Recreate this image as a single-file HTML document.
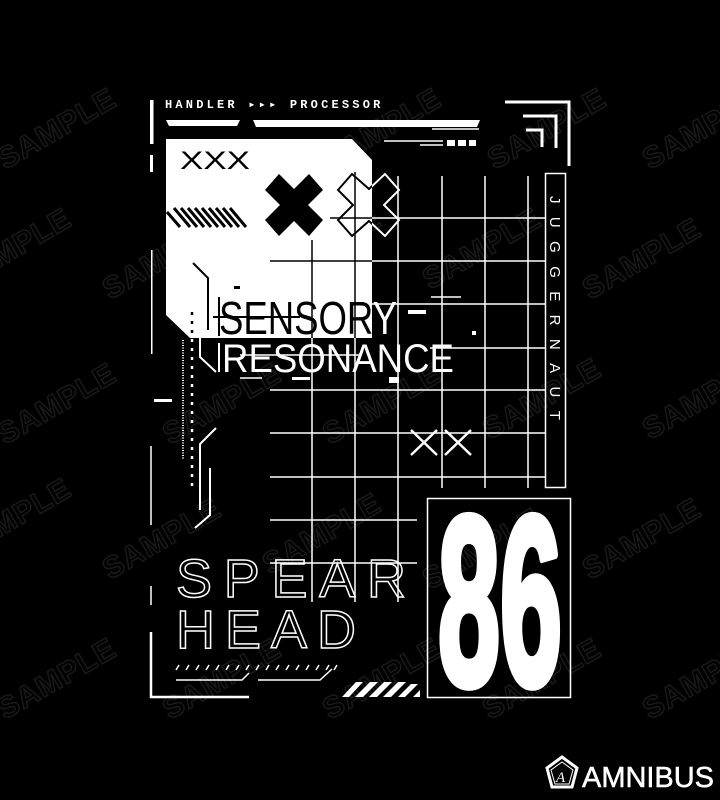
<!DOCTYPE html>
<html><head><meta charset="utf-8"><style>
html,body{margin:0;padding:0;background:#000;width:720px;height:800px;overflow:hidden}
svg{display:block}
</style></head><body>
<svg width="720" height="800" viewBox="0 0 720 800" xmlns="http://www.w3.org/2000/svg">
<defs>
<clipPath id="panel"><polygon points="166,139 352,139 372,160 372,338 190,338 166,315"/></clipPath>
</defs>
<rect width="720" height="800" fill="#000"/>
<!-- watermarks -->
<g font-family="Liberation Sans, sans-serif" font-weight="bold" font-size="30" fill="none" stroke="#1a1a1a" stroke-width="1.5" letter-spacing="1">
<text transform="translate(5,170) rotate(-30)">SAMPLE</text>
<text transform="translate(330,170) rotate(-30)">SAMPLE</text>
<text transform="translate(495,170) rotate(-30)">SAMPLE</text>
<text transform="translate(650,170) rotate(-30)">SAMPLE</text>
<text transform="translate(-40,290) rotate(-30)">SAMPLE</text>
<text transform="translate(110,300) rotate(-30)">SAMPLE</text>
<text transform="translate(270,290) rotate(-30)">SAMPLE</text>
<text transform="translate(430,290) rotate(-30)">SAMPLE</text>
<text transform="translate(590,300) rotate(-30)">SAMPLE</text>
<text transform="translate(5,445) rotate(-30)">SAMPLE</text>
<text transform="translate(170,445) rotate(-30)">SAMPLE</text>
<text transform="translate(330,445) rotate(-30)">SAMPLE</text>
<text transform="translate(490,440) rotate(-30)">SAMPLE</text>
<text transform="translate(650,440) rotate(-30)">SAMPLE</text>
<text transform="translate(-40,560) rotate(-30)">SAMPLE</text>
<text transform="translate(110,580) rotate(-30)">SAMPLE</text>
<text transform="translate(270,575) rotate(-30)">SAMPLE</text>
<text transform="translate(430,590) rotate(-30)">SAMPLE</text>
<text transform="translate(590,580) rotate(-30)">SAMPLE</text>
<text transform="translate(5,720) rotate(-30)">SAMPLE</text>
<text transform="translate(170,720) rotate(-30)">SAMPLE</text>
<text transform="translate(330,720) rotate(-30)">SAMPLE</text>
<text transform="translate(490,720) rotate(-30)">SAMPLE</text>
<text transform="translate(650,720) rotate(-30)">SAMPLE</text>
</g>

<!-- header -->
<text x="165" y="108" font-family="Liberation Mono, monospace" font-weight="bold" font-size="12" fill="#fff" letter-spacing="3.2">HANDLER ▸▸▸ PROCESSOR</text>
<rect x="150" y="100" width="3.5" height="44" fill="#fff"/>
<rect x="150" y="155" width="3" height="17" fill="#fff"/>
<rect x="151" y="250" width="1.5" height="104" fill="#fff"/>
<path d="M166,120 H240 L237,126 H169 Z" fill="#fff"/>
<path d="M253,120 H480 L477,127 H256 Z" fill="#fff"/>
<line x1="432" y1="129" x2="479" y2="129" stroke="#fff" stroke-width="1.5"/>
<line x1="384" y1="141" x2="443" y2="141" stroke="#fff" stroke-width="1.5"/>
<line x1="420" y1="145" x2="443" y2="145" stroke="#fff" stroke-width="1.5"/>
<rect x="447" y="140" width="8" height="6" fill="#fff"/><rect x="458" y="140" width="8" height="6" fill="#fff"/><rect x="469" y="140" width="7" height="6" fill="#fff"/>
<!-- corners -->
<path d="M505,102 H569 V166" fill="none" stroke="#fff" stroke-width="3"/>
<path d="M523,116 H556 V148" fill="none" stroke="#fff" stroke-width="3"/>
<path d="M526,130 H542 V147" fill="none" stroke="#fff" stroke-width="3"/>

<!-- panel -->
<polygon points="166,139 352,139 372,160 372,338 190,338 166,315" fill="#fff"/>
<text x="180" y="169" font-family="Liberation Sans, sans-serif" font-size="25" fill="#000" textLength="70" lengthAdjust="spacingAndGlyphs">XXX</text>
<g stroke="#000" stroke-width="3">
<line x1="167" y1="212" x2="180" y2="227"/><line x1="174" y1="208" x2="190" y2="227"/><line x1="181" y1="208" x2="197" y2="227"/><line x1="188" y1="208" x2="204" y2="227"/><line x1="195" y1="208" x2="211" y2="227"/><line x1="202" y1="208" x2="218" y2="227"/><line x1="209" y1="208" x2="225" y2="227"/><line x1="216" y1="208" x2="232" y2="227"/><line x1="223" y1="208" x2="239" y2="227"/><line x1="230" y1="208" x2="246" y2="227"/>
</g>
<!-- black X -->
<path d="M265,190 L279,174 L294,189 L309,174 L323,190 L308,205 L323,220 L309,236 L294,221 L279,236 L265,220 L280,205 Z" fill="#000"/>
<!-- grid -->
<g stroke="#fff" stroke-width="1.5">
<line x1="312" y1="240" x2="312" y2="602"/>
<line x1="355" y1="172" x2="355" y2="602"/>
<line x1="398" y1="176" x2="398" y2="602"/>
<line x1="442" y1="176" x2="442" y2="488"/>
<line x1="485" y1="176" x2="485" y2="488"/>
<line x1="528" y1="176" x2="528" y2="488"/>
<line x1="327" y1="218" x2="545" y2="218"/>
<line x1="270" y1="261" x2="545" y2="261"/>
<line x1="372" y1="304" x2="545" y2="304"/>
<line x1="430" y1="348" x2="545" y2="348"/>
<line x1="270" y1="390" x2="545" y2="390"/>
<line x1="270" y1="433" x2="545" y2="433"/>
<line x1="270" y1="477" x2="545" y2="477"/>
<line x1="270" y1="520" x2="417" y2="520"/>
<line x1="270" y1="563" x2="417" y2="563"/>
</g>
<g clip-path="url(#panel)" stroke="#000" stroke-width="1.5">
<line x1="312" y1="240" x2="312" y2="602"/>
<line x1="355" y1="172" x2="355" y2="602"/>
<line x1="270" y1="261" x2="545" y2="261"/>
<line x1="330" y1="218" x2="545" y2="218"/>
</g>
<!-- outline X -->
<path d="M338,190 L352,174 L369,189 L385,174 L399,190 L384,205 L399,220 L385,236 L369,221 L352,236 L338,220 L353,205 Z" fill="none" stroke="#fff" stroke-width="2"/>
<g clip-path="url(#panel)"><path d="M338,190 L352,174 L369,189 L385,174 L399,190 L384,205 L399,220 L385,236 L369,221 L352,236 L338,220 L353,205 Z" fill="none" stroke="#000" stroke-width="2"/></g>

<!-- juggernaut -->
<rect x="545.5" y="173.5" width="20" height="314" fill="none" stroke="#fff" stroke-width="1.5"/>
<text transform="translate(550,196) rotate(90)" font-family="Liberation Sans, sans-serif" font-size="15" fill="#fff" letter-spacing="13.4">JUGGERNAUT</text>

<!-- left decorations -->
<path d="M193,263 L208,278 V330" fill="none" stroke="#000" stroke-width="2"/>
<path d="M200,290 V357 L216,372" fill="none" stroke="#fff" stroke-width="2"/>
<rect x="234" y="286" width="6" height="3" fill="#000"/>
<rect x="154" y="399" width="18" height="3" fill="#fff"/>
<line x1="183" y1="340" x2="183" y2="460" stroke="#fff" stroke-width="2" stroke-dasharray="1 1.5"/>
<line x1="192" y1="312" x2="192" y2="486" stroke="#fff" stroke-width="2.5" stroke-dasharray="3 6"/>
<g clip-path="url(#panel)"><line x1="192" y1="312" x2="192" y2="338" stroke="#000" stroke-width="2.5" stroke-dasharray="3 6"/></g>
<path d="M216,428 L200,444 V510" fill="none" stroke="#fff" stroke-width="2"/>
<path d="M210,468 V515 L195,528" fill="none" stroke="#fff" stroke-width="2"/>
<line x1="151" y1="446" x2="151" y2="525" stroke="#fff" stroke-width="1.5"/>
<line x1="151" y1="586" x2="151" y2="605" stroke="#fff" stroke-width="1.5"/>
<path d="M151,632 V697 H249" fill="none" stroke="#fff" stroke-width="2.5"/>

<!-- SENSORY -->
<line x1="219" y1="297" x2="219" y2="336" stroke="#000" stroke-width="2"/>
<text x="219" y="334" font-family="Liberation Sans, sans-serif" font-size="46" fill="#fff" textLength="178" lengthAdjust="spacingAndGlyphs">SENSORY</text>
<g clip-path="url(#panel)"><text x="219" y="334" font-family="Liberation Sans, sans-serif" font-size="46" fill="#000" textLength="178" lengthAdjust="spacingAndGlyphs">SENSORY</text></g>
<line x1="213" y1="317" x2="300" y2="317" stroke="#000" stroke-width="2"/>
<rect x="408" y="310" width="18" height="4" fill="#fff"/>
<rect x="472" y="331" width="4" height="4" fill="#fff"/>
<line x1="431" y1="297" x2="461" y2="297" stroke="#fff" stroke-width="1.5"/>
<!-- RESONANCE -->
<line x1="219" y1="343" x2="219" y2="372" stroke="#fff" stroke-width="2"/>
<text x="222" y="372" font-family="Liberation Sans, sans-serif" font-size="40" fill="#fff" textLength="232" lengthAdjust="spacingAndGlyphs">RESONANCE</text>
<line x1="240" y1="378" x2="262" y2="378" stroke="#fff" stroke-width="1.5"/>
<rect x="292" y="377" width="18" height="3" fill="#fff"/>
<rect x="389" y="377" width="10" height="6" fill="#fff"/>
<line x1="240" y1="355" x2="360" y2="355" stroke="#fff" stroke-width="1.5"/>

<!-- XX -->
<g stroke="#fff" stroke-width="2.5">
<line x1="411" y1="430" x2="437" y2="455"/><line x1="437" y1="430" x2="411" y2="455"/>
<line x1="445" y1="430" x2="471" y2="455"/><line x1="471" y1="430" x2="445" y2="455"/>
</g>

<!-- SPEAR HEAD -->
<g font-family="Liberation Sans, sans-serif" font-size="54" fill="none" stroke="#fff" stroke-width="1.5">
<text x="176" y="597" textLength="230" lengthAdjust="spacing">SPEAR</text>
<text x="176" y="648" textLength="180" lengthAdjust="spacing">HEAD</text>
</g>
<g stroke="#fff" stroke-width="1.5">
<line x1="176" y1="670" x2="179" y2="665"/><line x1="186" y1="670" x2="189" y2="665"/><line x1="196" y1="670" x2="199" y2="665"/><line x1="206" y1="670" x2="209" y2="665"/><line x1="216" y1="670" x2="219" y2="665"/><line x1="226" y1="670" x2="229" y2="665"/><line x1="236" y1="670" x2="239" y2="665"/><line x1="246" y1="670" x2="249" y2="665"/><line x1="256" y1="670" x2="259" y2="665"/><line x1="266" y1="670" x2="269" y2="665"/><line x1="276" y1="670" x2="279" y2="665"/><line x1="286" y1="670" x2="289" y2="665"/><line x1="296" y1="670" x2="299" y2="665"/><line x1="306" y1="670" x2="309" y2="665"/><line x1="316" y1="670" x2="319" y2="665"/><line x1="326" y1="670" x2="329" y2="665"/><line x1="334" y1="670" x2="337" y2="665"/>
</g>
<path d="M176,680 H242 L249,673 M258,680 H320 L332,669" fill="none" stroke="#fff" stroke-width="1.5"/>
<g fill="#fff">
<polygon points="342,697 356,682 363,682 349,697"/>
<polygon points="355,697 370,682 378,682 363,697"/>
<polygon points="369,697 384,682 392,682 377,697"/>
<polygon points="383,697 398,682 406,682 391,697"/>
<polygon points="398,697 411,684 418,684 405,697"/>
<polygon points="413,697 420,690 420,697"/>
</g>

<!-- 86 -->
<rect x="427.5" y="498.5" width="143" height="199" fill="none" stroke="#fff" stroke-width="1.5"/>
<text x="438" y="684" font-family="Liberation Sans, sans-serif" font-weight="bold" font-size="240" fill="#fff" stroke="#fff" stroke-width="9" stroke-linejoin="round" textLength="124" lengthAdjust="spacingAndGlyphs">86</text>

<!-- AMNIBUS logo -->
<polygon points="562,757 577,768 572,787 552,787 547,768" fill="none" stroke="#fff" stroke-width="3"/>
<polygon points="562,762 573,770 569,784 555,784 551,770" fill="none" stroke="#fff" stroke-width="1"/>
<text x="556" y="782" font-family="Liberation Serif, serif" font-style="italic" font-size="15" fill="#fff">A</text>
<text x="582" y="787" font-family="Liberation Sans, sans-serif" font-size="29" fill="#fff" stroke="#fff" stroke-width="0.5" textLength="132" lengthAdjust="spacingAndGlyphs">AMNIBUS</text>
</svg>
</body></html>
